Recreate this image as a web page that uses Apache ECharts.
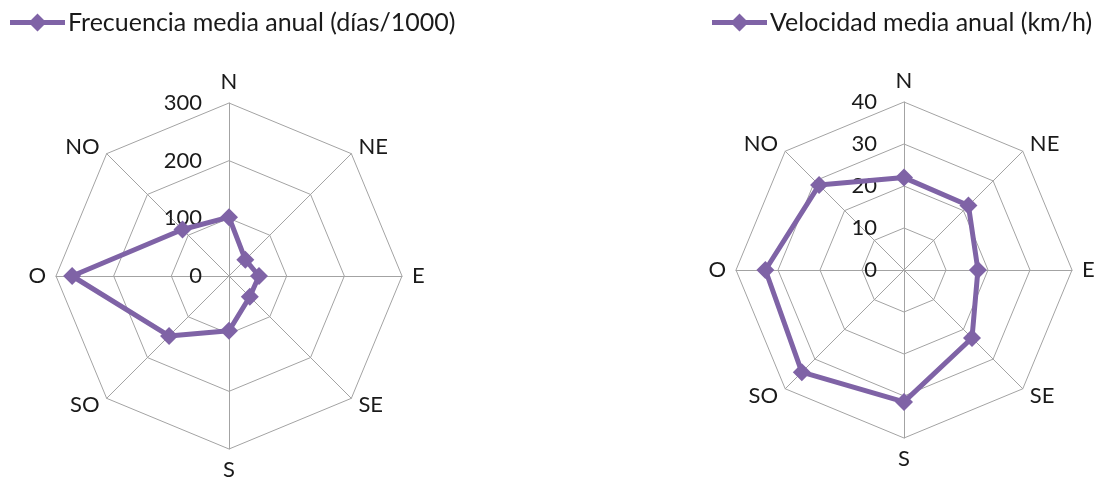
<!DOCTYPE html>
<html>
<head>
<meta charset="utf-8">
<script src="https://cdn.jsdelivr.net/npm/echarts@6/dist/echarts.min.js"></script>
<style>
  html, body { margin: 0; padding: 0; background: #fff; }
  #chart { width: 1107px; height: 482px; }
</style>
</head>
<body>
<div id="chart"></div>
<script>
// direcciones, en sentido antihorario desde el norte (así las pinta el radar)
const directions = ["N", "NO", "O", "SO", "S", "SE", "E", "NE"];
const frecuencia = [102, 114, 272, 147, 95, 51, 52, 40];
const velocidad = [22, 28.6, 33, 34.4, 31.4, 22.9, 17.6, 21.7];
const frecuenciaMax = 300;
const velocidadMax = 40;
const frecuenciaName = "Frecuencia media anual (días/1000)";
const velocidadName = "Velocidad media anual (km/h)";

const purple = "#7f63a6";
const gridGray = "#a3a3a3";
const textColor = "#1a1a1a";
const font = "Lato";
const legendIcon = "path://M0,7.5L55,7.5L55,12.5L0,12.5Z M27.5,1L36.5,10L27.5,19L18.5,10Z";

const chart = echarts.init(document.getElementById("chart"));

function indicators(max) {
  //solo el eje N lleva las etiquetas de valor
  return directions.map((d, i) => ({
    name: d,
    max: max,
    min: 0,
    axisLabel: { show: i === 0 },
  }));
}

function radar(center, radius, max, splitNumber) {
  return {
    center: center,
    radius: radius,
    startAngle: 90,
    shape: "polygon",
    splitNumber: splitNumber,
    indicator: indicators(max),
    axisName: { color: textColor, fontSize: 22, fontFamily: font },
    nameGap: 10,
    splitLine: { lineStyle: { color: gridGray, width: 1 } },
    splitArea: { show: false },
    axisLine: { lineStyle: { color: gridGray, width: 1 } },
    axisTick: { show: false },
    axisLabel: {
      show: false,
      color: textColor,
      fontSize: 22,
      fontFamily: font,
      margin: 27,
    },
  };
}

function legend(left, name) {
  return {
    data: [name],
    left: left,
    top: 10,
    icon: legendIcon,
    itemWidth: 55,
    itemHeight: 19,
    itemGap: 0,
    padding: 0,
    textStyle: { color: textColor, fontSize: 25, fontFamily: font, padding: [0, 0, 0, -2] },
  };
}

function series(name, radarIndex, values) {
  return {
    name: name,
    type: "radar",
    radarIndex: radarIndex,
    symbol: "diamond",
    symbolSize: 18,
    itemStyle: { color: purple },
    lineStyle: { color: purple, width: 5 },
    data: [{ name: name, value: values }],
  };
}

chart.setOption({
  animation: false,
  color: [purple],
  legend: [legend(10, frecuenciaName), legend(712, velocidadName)],
  radar: [
    radar([229, 276], 173, frecuenciaMax, 3),
    radar([904, 270], 168, velocidadMax, 4),
  ],
  series: [
    series(frecuenciaName, 0, frecuencia),
    series(velocidadName, 1, velocidad),
  ],
});
</script>
</body>
</html>
